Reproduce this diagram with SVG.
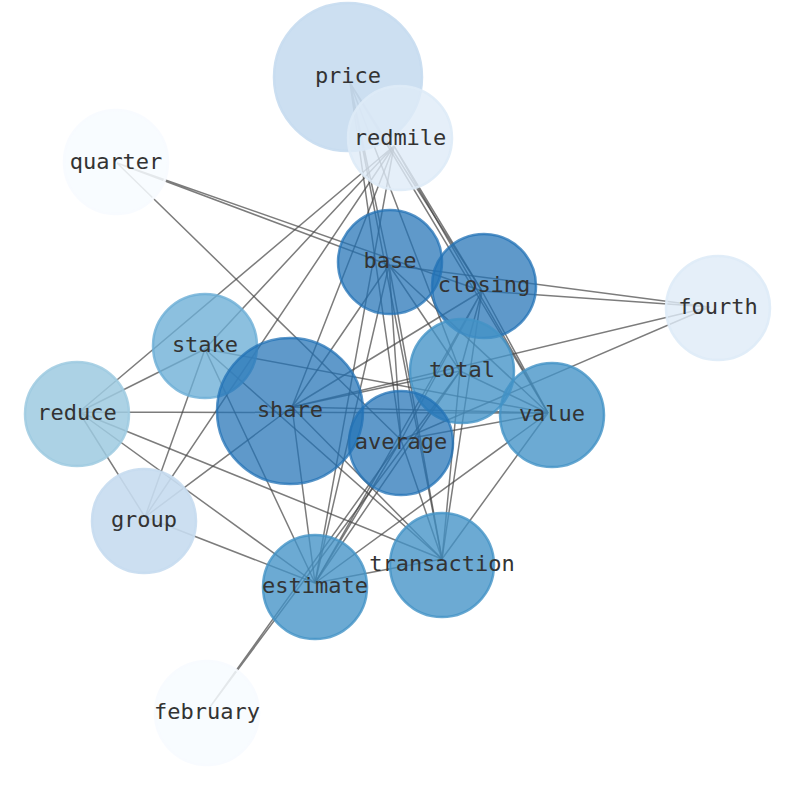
<svg xmlns="http://www.w3.org/2000/svg" width="794" height="790" viewBox="0 0 794 790">
<style>
.e{stroke:#444;stroke-opacity:0.7;stroke-width:1.5;fill:none}
.n circle{stroke-width:2.5}
.n text{font-family:"DejaVu Sans Mono","Liberation Mono",monospace;font-size:22px;fill:#333;text-anchor:middle}
.c1 circle{fill:#2171b5;stroke:#2171b5;fill-opacity:0.72;stroke-opacity:0.75}
.c2 circle{fill:#4292c6;stroke:#4292c6;fill-opacity:0.78;stroke-opacity:0.8}
.c3 circle{fill:#6baed6;stroke:#6baed6;fill-opacity:0.78;stroke-opacity:0.8}
.c4 circle{fill:#9ecae1;stroke:#9ecae1;fill-opacity:0.85;stroke-opacity:0.85}
.c5 circle{fill:#c6dbef;stroke:#c6dbef;fill-opacity:0.9;stroke-opacity:0.9}
.c6 circle{fill:#deebf7;stroke:#deebf7;fill-opacity:0.8;stroke-opacity:0.9}
.c7 circle{fill:#f7fbff;stroke:#f7fbff;fill-opacity:0.85;stroke-opacity:0.9}
</style>
<rect width="794" height="790" fill="#fff"/>
<g id="edges" class="e">
<path d="M117 163L389 265M117 163L482 291M117 163L401 440"/>
<path d="M210 707L401 440M210 707L460 371"/>
<path d="M710 307L389 265M710 307L482 291M710 307L292 407M710 307L401 440"/>
<path d="M350 83L389 265M350 83L482 291M350 83L548 413M350 83L460 371M350 83L401 440M350 83L442 559"/>
<path d="M394 146L79 412M394 146L205 349M394 146L145 517M394 146L292 407M394 146L315 583M394 146L548 413M394 146L482 291"/>
<path d="M79 412L205 349M79 412L548 413M79 412L145 517M79 412L315 583M79 412L442 559"/>
<path d="M205 349L145 517M205 349L315 583M205 349L548 413M205 349L442 559"/>
<path d="M145 517L292 407M145 517L315 583"/>
<path d="M292 407L389 265M292 407L482 291M292 407L442 559M292 407L315 583M292 407L548 413M292 407L460 371"/>
<path d="M389 265L460 371M389 265L548 413M389 265L401 440M389 265L442 559M389 265L315 583"/>
<path d="M482 291L460 371M482 291L401 440M482 291L315 583M482 291L442 559M482 291L548 413"/>
<path d="M460 371L548 413M460 371L315 583M460 371L442 559"/>
<path d="M401 440L548 413M401 440L442 559M401 440L315 583"/>
<path d="M548 413L442 559M548 413L315 583"/>
<path d="M442 559L315 583"/>
</g>
<g id="price" class="n c5"><circle cx="348" cy="77" r="74"/><text x="348" y="83">price</text></g>
<g id="redmile" class="n c6"><circle cx="400" cy="138" r="52"/><text x="400" y="145">redmile</text></g>
<g id="quarter" class="n c7"><circle cx="116" cy="162" r="52"/><text x="116" y="169">quarter</text></g>
<g id="base" class="n c1"><circle cx="390" cy="262" r="52"/><text x="390" y="268">base</text></g>
<g id="closing" class="n c1"><circle cx="484" cy="286" r="52"/><text x="484" y="292">closing</text></g>
<g id="fourth" class="n c6"><circle cx="718" cy="308" r="52"/><text x="718" y="314">fourth</text></g>
<g id="stake" class="n c3"><circle cx="205" cy="346" r="52"/><text x="205" y="352">stake</text></g>
<g id="total" class="n c2"><circle cx="462" cy="371" r="52"/><text x="462" y="377">total</text></g>
<g id="share" class="n c1"><circle cx="290" cy="411" r="73"/><text x="290" y="417">share</text></g>
<g id="reduce" class="n c4"><circle cx="77" cy="414" r="52"/><text x="77" y="420">reduce</text></g>
<g id="value" class="n c2"><circle cx="552" cy="415" r="52"/><text x="552" y="421">value</text></g>
<g id="average" class="n c1"><circle cx="401" cy="443" r="52"/><text x="401" y="449">average</text></g>
<g id="group" class="n c5"><circle cx="144" cy="521" r="52"/><text x="144" y="527">group</text></g>
<g id="transaction" class="n c2"><circle cx="442" cy="565" r="52"/><text x="442" y="571">transaction</text></g>
<g id="estimate" class="n c2"><circle cx="315" cy="587" r="52"/><text x="315" y="593">estimate</text></g>
<g id="february" class="n c7"><circle cx="207" cy="713" r="52"/><text x="207" y="719">february</text></g>
</svg>
